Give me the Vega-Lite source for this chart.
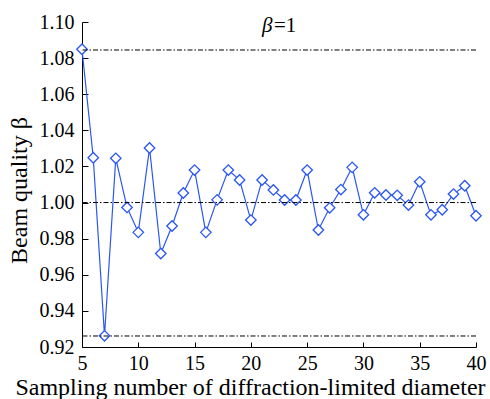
{
  "$schema": "https://vega.github.io/schema/vega-lite/v6.json",
  "width": 394,
  "height": 325,
  "autosize": {"type": "none"},
  "padding": {"left": 82, "top": 22, "right": 14, "bottom": 52},
  "background": "white",
  "config": {
    "view": {"stroke": null},
    "font": "Liberation Serif",
    "axis": {
      "grid": false,
      "domainColor": "black",
      "domainWidth": 1,
      "tickColor": "black",
      "tickWidth": 1,
      "labelColor": "black",
      "titleColor": "black",
      "labelFont": "Liberation Serif",
      "titleFont": "Liberation Serif",
      "labelFontSize": 20,
      "titleFontSize": 24,
      "titleFontWeight": "normal",
      "labelOverlap": false,
      "labelFlush": false
    }
  },
  "datasets": {
    "series": [
      {"n": 5, "beta": 1.0849},
      {"n": 6, "beta": 1.0248},
      {"n": 7, "beta": 0.9262},
      {"n": 8, "beta": 1.0245},
      {"n": 9, "beta": 0.9973},
      {"n": 10, "beta": 0.9835},
      {"n": 11, "beta": 1.0302},
      {"n": 12, "beta": 0.9718},
      {"n": 13, "beta": 0.987},
      {"n": 14, "beta": 1.0053},
      {"n": 15, "beta": 1.018},
      {"n": 16, "beta": 0.9835},
      {"n": 17, "beta": 1.0015},
      {"n": 18, "beta": 1.018},
      {"n": 19, "beta": 1.0125},
      {"n": 20, "beta": 0.9903},
      {"n": 21, "beta": 1.0125},
      {"n": 22, "beta": 1.007},
      {"n": 23, "beta": 1.0014},
      {"n": 24, "beta": 1.0014},
      {"n": 25, "beta": 1.018},
      {"n": 26, "beta": 0.9848},
      {"n": 27, "beta": 0.9971},
      {"n": 28, "beta": 1.0072},
      {"n": 29, "beta": 1.0195},
      {"n": 30, "beta": 0.9932},
      {"n": 31, "beta": 1.0054},
      {"n": 32, "beta": 1.0042},
      {"n": 33, "beta": 1.004},
      {"n": 34, "beta": 0.9986},
      {"n": 35, "beta": 1.0115},
      {"n": 36, "beta": 0.9932},
      {"n": 37, "beta": 0.996},
      {"n": 38, "beta": 1.0047},
      {"n": 39, "beta": 1.0093},
      {"n": 40, "beta": 0.9927}
    ],
    "refs": [
      {"level": 1.0845},
      {"level": 1.0},
      {"level": 0.9261}
    ],
    "note": [{"sym": "β", "rest": "=1"}]
  },
  "layer": [
    {
      "data": {"name": "series"},
      "mark": {"type": "line", "color": "#2a56f5", "strokeWidth": 1.2, "point": {"shape": "diamond", "size": 110, "filled": false, "fill": "white", "fillOpacity": 1, "stroke": "#2a56f5", "strokeWidth": 1.3}},
      "encoding": {
        "x": {
          "field": "n", "type": "quantitative",
          "scale": {"domain": [5, 40], "nice": false, "zero": false},
          "axis": {"values": [5, 10, 15, 20, 25, 30, 35, 40], "tickCount": 12, "tickSize": -5, "labelPadding": 11, "title": "Sampling number of diffraction-limited diameter", "titlePadding": 2, "titleX": 168}
        },
        "y": {
          "field": "beta", "type": "quantitative",
          "scale": {"domain": [0.92, 1.1], "nice": false, "zero": false},
          "axis": {"values": [0.92, 0.94, 0.96, 0.98, 1.0, 1.02, 1.04, 1.06, 1.08, 1.1], "tickCount": 12, "format": ".2f", "tickSize": -6, "labelPadding": 14, "title": "Beam quality β", "titlePadding": 8, "titleY": 168}
        }
      }
    },
    {
      "data": {"name": "refs"},
      "mark": {"type": "rule", "color": "black", "strokeWidth": 1, "strokeDash": [5, 2, 1.5, 2]},
      "encoding": {
        "y": {"field": "level", "type": "quantitative"}
      }
    },
    {
      "data": {"name": "note"},
      "mark": {"type": "text", "font": "Liberation Serif", "fontSize": 21, "fontStyle": "italic", "align": "left", "baseline": "alphabetic", "color": "black"},
      "encoding": {
        "text": {"field": "sym"},
        "x": {"datum": 21},
        "y": {"datum": 1.0945}
      }
    },
    {
      "data": {"name": "note"},
      "mark": {"type": "text", "font": "Liberation Serif", "fontSize": 21, "align": "left", "baseline": "alphabetic", "color": "black"},
      "encoding": {
        "text": {"field": "rest"},
        "x": {"datum": 22.05},
        "y": {"datum": 1.0945}
      }
    }
  ]
}
